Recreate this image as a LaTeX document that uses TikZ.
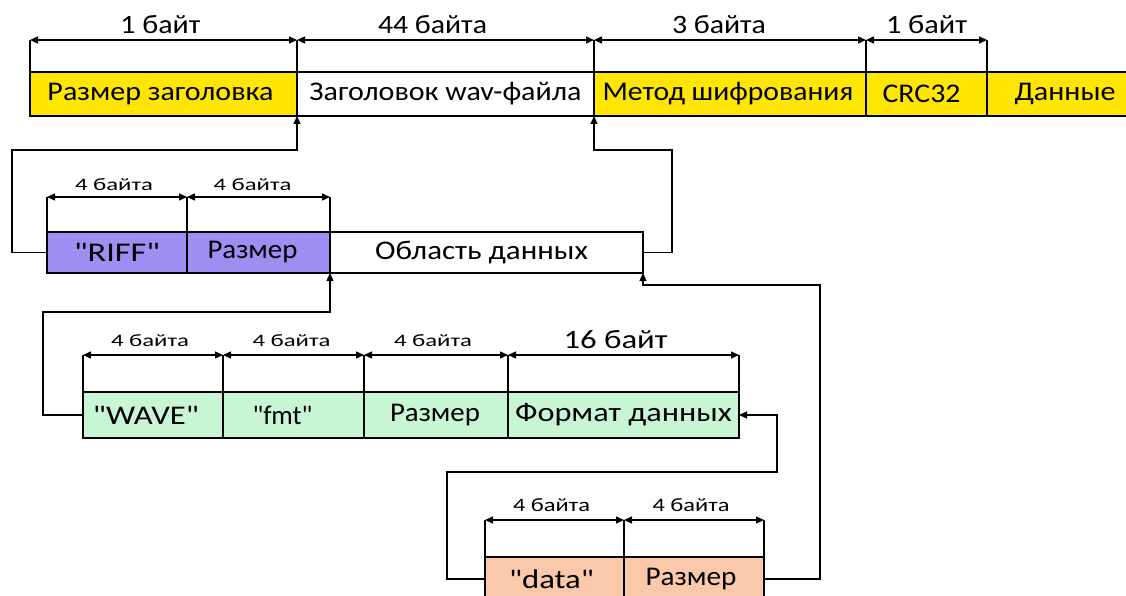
\documentclass[tikz,border=0pt]{standalone}
\usepackage{fontspec}
\setmainfont{Carlito}[Ligatures=TeXOff]
\usetikzlibrary{arrows.meta}
\definecolor{yel}{RGB}{255,230,0}
\definecolor{pur}{RGB}{158,142,242}
\definecolor{grn}{RGB}{200,245,212}
\definecolor{pch}{RGB}{250,200,170}
\newcommand\fw[2]{\resizebox{#1pt}{\height}{#2}}
\newcommand\qq{"}
\begin{document}
\begin{tikzpicture}[x=1pt,y=-1pt,
  box/.style={draw, line width=1.3pt, inner sep=0pt, outer sep=0pt, anchor=north west},
  dim/.style={line width=1.3pt, {Triangle[length=8pt,width=7pt]}-{Triangle[length=8pt,width=7pt]}},
  conn/.style={line width=1.3pt, -{Triangle[length=8pt,width=7pt]}},
  tick/.style={line width=1.3pt},
  fb/.style={font=\fontsize{27}{29}\selectfont},
  fc/.style={font=\fontsize{17.5}{19}\selectfont},
  fe/.style={font=\fontsize{19}{21}\selectfont},
  fd/.style={font=\fontsize{26.5}{28}\selectfont},
  lab/.style={midway, above=6pt, inner sep=0pt},
  labs/.style={midway, above=8pt, inner sep=0pt}]
\useasboundingbox (0,0) rectangle (1126,596);

% top row
\node[box, fb, fill=yel, minimum width=267pt, minimum height=44pt] (t1) at (30,72) {\hspace*{-6pt}\fw{226}{Размер заголовка}};
\node[box, fb, fill=white, minimum width=297pt, minimum height=44pt] (t2) at (297,72) {\fw{272}{Заголовок wav-файла}};
\node[box, fb, fill=yel, minimum width=272pt, minimum height=44pt] (t3) at (594,72) {\hspace*{-4pt}\fw{251}{Метод шифрования}};
\node[box, fb, fill=yel, minimum width=121pt, minimum height=44pt] (t4) at (866,72) {\hspace*{-10pt}\fw{78}{CRC32}};
\node[box, fb, fill=yel, minimum width=160pt, minimum height=44pt] (t5) at (987,72) {\hspace*{-4pt}\fw{101}{Данные}};
\foreach \n in {t1,t2,t3,t4,t5} \draw[tick] (\n.north west) -- ++(0,-32);
\draw[dim] ([yshift=32pt]t1.north west) -- ([yshift=32pt]t1.north east) node[lab, fd] {\hspace*{-6pt}\fw{80}{1 байт}};
\draw[dim] ([yshift=32pt]t2.north west) -- ([yshift=32pt]t2.north east) node[lab, fd] {\hspace*{-26pt}\fw{109}{44 байта}};
\draw[dim] ([yshift=32pt]t3.north west) -- ([yshift=32pt]t3.north east) node[lab, fd] {\hspace*{-22pt}\fw{94}{3 байта}};
\draw[dim] ([yshift=32pt]t4.north west) -- ([yshift=32pt]t4.north east) node[lab, fd] {\fw{81}{1 байт}};

% RIFF row
\node[box, fb, fill=pur, minimum width=140pt, minimum height=41pt] (r1) at (47,232) {\fw{86}{\qq RIFF\qq}};
\node[box, fb, fill=pur, minimum width=143pt, minimum height=41pt] (r2) at (187,232) {\hspace*{-12pt}\fw{90}{Размер}};
\node[box, fb, fill=white, minimum width=313pt, minimum height=41pt] (r3) at (330,232) {\hspace*{-10pt}\fw{213}{Область данных}};
\foreach \n in {r1,r2,r3} \draw[tick] (\n.north west) -- ++(0,-35);
\draw[dim] ([yshift=35pt]r1.north west) -- ([yshift=35pt]r1.north east) node[lab, fc] {\hspace*{-6pt}\fw{78}{4 байта}};
\draw[dim] ([yshift=35pt]r2.north west) -- ([yshift=35pt]r2.north east) node[lab, fc] {\hspace*{-12pt}\fw{78}{4 байта}};

% WAVE row
\node[box, fb, fill=grn, minimum width=140pt, minimum height=46pt] (w1) at (83,392) {\hspace*{-14pt}\fw{106}{\qq WAVE\qq}};
\node[box, fb, fill=grn, minimum width=141pt, minimum height=46pt] (w2) at (223,392) {\hspace*{-22pt}\fw{60}{\qq fmt\qq}};
\node[box, fb, fill=grn, minimum width=144pt, minimum height=46pt] (w3) at (364,392) {\hspace*{-2pt}\fw{90}{Размер}};
\node[box, fb, fill=grn, minimum width=231pt, minimum height=46pt] (w4) at (508,392) {\fw{217}{Формат данных}};
\foreach \n in {w1,w2,w3,w4} \draw[tick] (\n.north west) -- ++(0,-37);
\draw[tick] (w4.north east) -- ++(0,-37);
\draw[dim] ([yshift=37pt]w1.north west) -- ([yshift=37pt]w1.north east) node[labs, fc] {\hspace*{-6pt}\fw{78}{4 байта}};
\draw[dim] ([yshift=37pt]w2.north west) -- ([yshift=37pt]w2.north east) node[labs, fc] {\hspace*{-4pt}\fw{78}{4 байта}};
\draw[dim] ([yshift=37pt]w3.north west) -- ([yshift=37pt]w3.north east) node[labs, fc] {\hspace*{-6pt}\fw{78}{4 байта}};
\draw[dim] ([yshift=37pt]w4.north west) -- ([yshift=37pt]w4.north east) node[lab, fd] {\hspace*{-16pt}\fw{104}{16 байт}};

% data row
\node[box, fb, fill=pch, minimum width=139pt, minimum height=44pt] (d1) at (485,557) {\hspace*{-6pt}\fw{85}{\qq data\qq}};
\node[box, fb, fill=pch, minimum width=140pt, minimum height=44pt] (d2) at (624,557) {\hspace*{-6pt}\fw{91}{Размер}};
\foreach \n in {d1,d2} \draw[tick] (\n.north west) -- ++(0,-37);
\draw[tick] (d2.north east) -- ++(0,-37);
\draw[dim] ([yshift=37pt]d1.north west) -- ([yshift=37pt]d1.north east) node[labs, fe] {\hspace*{-6pt}\fw{77}{4 байта}};
\draw[dim] ([yshift=37pt]d2.north west) -- ([yshift=37pt]d2.north east) node[labs, fe] {\hspace*{-6pt}\fw{77}{4 байта}};

% connectors
\draw[conn] (r1.west) -| (12,150) -| (t1.south east);
\draw[conn] (r3.east) -| (672,150) -| (t2.south east);
\draw[conn] (w1.west) -| (43,312) -| (r2.south east);
\draw[conn] (d2.east) -| (820,285) -| (r3.south east);
\draw[conn] (d1.west) -| (447,472) -| ([xshift=38pt]w4.east) -- (w4.east);
\end{tikzpicture}
\end{document}
